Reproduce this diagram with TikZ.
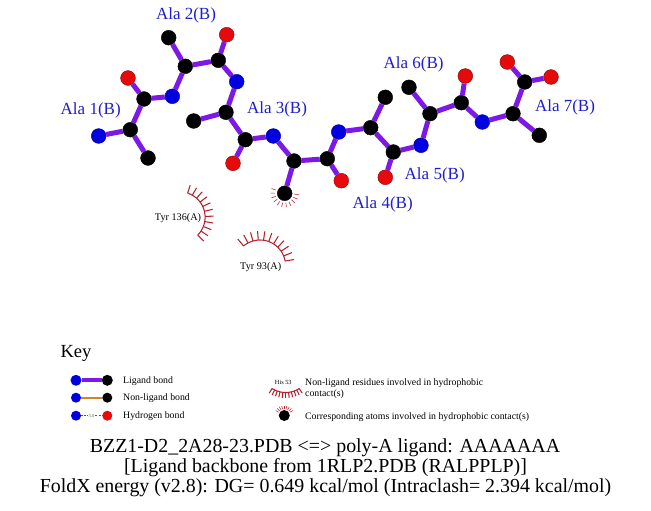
\documentclass[tikz,border=0pt]{standalone}
\usepackage{fontspec}
\setmainfont{Liberation Serif}
\definecolor{bondpurple}{RGB}{125,25,230}
\definecolor{nlbond}{RGB}{205,135,40}
\definecolor{hydrored}{RGB}{185,30,45}
\definecolor{atomblue}{RGB}{0,0,225}
\definecolor{atomred}{RGB}{230,10,10}
\definecolor{labelblue}{RGB}{30,30,205}
\definecolor{hbgreen}{RGB}{20,130,50}
\newcommand{\fsz}[1]{\fontsize{#1}{#1}\selectfont}
\newcommand{\hydroarc}[7]{% cx cy R a0 a1 steps len
  \draw[hydro] plot[smooth,samples=25,domain=#4:#5,variable=\t] ({#1+#3*cos(\t)},{#2+#3*sin(\t)});
  \foreach \k in {0,...,#6}{
    \pgfmathsetmacro{\ang}{#4+(#5-#4)*\k/#6}
    \draw[hydro] ({#1+#3*cos(\ang)},{#2+#3*sin(\ang)}) -- ({#1+(#3+#7)*cos(\ang)},{#2+(#3+#7)*sin(\ang)});
  }
}
\newcommand{\hydrorays}[7]{% cx cy r0 r1 a0 a1 steps
  \foreach \k in {0,...,#7}{
    \pgfmathsetmacro{\ang}{#5+(#6-#5)*\k/#7}
    \draw[hydro,line width=0.55pt] ({#1+#3*cos(\ang)},{#2+#3*sin(\ang)}) -- ({#1+#4*cos(\ang)},{#2+#4*sin(\ang)});
  }
}
\tikzset{
  x=1pt,y=-1pt,
  atom/.style={circle,inner sep=0pt,minimum size=14.8pt,draw=black,line width=0.4pt},
  cat/.style={atom,fill=black},
  nat/.style={atom,fill=atomblue,draw=atomblue!70!black},
  oat/.style={atom,fill=atomred,draw=atomred!60!black},
  katom/.style={circle,inner sep=0pt,minimum size=#1,line width=0pt},
  bond/.style={draw=bondpurple,line width=5pt},
  lab/.style={text=labelblue,font=\fsz{17},inner sep=0pt,yshift=-1.5pt},
  hydro/.style={draw=hydrored,line width=1.05pt},
  res/.style={text=black,font=\fsz{10.2},inner sep=0pt,yshift=-1.2pt},
  keytxt/.style={text=black,font=\fsz{9.8},inner sep=0pt,anchor=west,yshift=-1pt},
  captxt/.style={text=black,font=\fsz{19.9},inner sep=0pt,yshift=-1.5pt},
}
\begin{document}
\begin{tikzpicture}
\useasboundingbox (0,0) rectangle (651,511);
% atoms
\node[nat] (N1) at (98.7,136) {};
\node[cat] (CA1) at (130.3,129.7) {};
\node[cat] (CB1) at (148,158) {};
\node[cat] (C1) at (144,99) {};
\node[oat] (O1) at (128,78) {};
\node[nat] (N2) at (172.3,96.3) {};
\node[cat] (CA2) at (185.3,66.3) {};
\node[cat] (CB2) at (168.7,37.7) {};
\node[cat] (C2) at (218.3,60.3) {};
\node[oat] (O2) at (226.7,34.7) {};
\node[nat] (N3) at (236.7,81.7) {};
\node[cat] (CA3) at (226,112.3) {};
\node[cat] (CB3) at (193.7,121) {};
\node[cat] (C3) at (245.3,139.7) {};
\node[oat] (O3) at (233,163.3) {};
\node[nat] (N4) at (273.3,136) {};
\node[cat] (CA4) at (294,161) {};
\node[cat] (CB4) at (284.7,193.3) {};
\node[cat] (C4) at (327.3,158.7) {};
\node[oat] (O4) at (341.3,180.7) {};
\node[nat] (N5) at (338.7,132) {};
\node[cat] (CA5) at (370.7,127.7) {};
\node[cat] (CB5) at (385.3,97.3) {};
\node[cat] (C5) at (393.3,152) {};
\node[oat] (O5) at (385.3,177.3) {};
\node[nat] (N6) at (421,145.3) {};
\node[cat] (CA6) at (430,113.7) {};
\node[cat] (CB6) at (409,87.3) {};
\node[cat] (C6) at (461.3,102.7) {};
\node[oat] (O6) at (465.3,76) {};
\node[nat] (N7) at (482.3,122) {};
\node[cat] (CA7) at (513,113.7) {};
\node[cat] (CB7) at (539.3,135.3) {};
\node[cat] (C7) at (524.7,82) {};
\node[oat] (O7a) at (507.3,62) {};
\node[oat] (O7b) at (551,77) {};
% bonds
\foreach \a/\b in {N1/CA1,CA1/CB1,CA1/C1,C1/O1,C1/N2,N2/CA2,CA2/CB2,CA2/C2,C2/O2,C2/N3,N3/CA3,CA3/CB3,CA3/C3,C3/O3,C3/N4,N4/CA4,CA4/CB4,CA4/C4,C4/O4,C4/N5,N5/CA5,CA5/CB5,CA5/C5,C5/O5,C5/N6,N6/CA6,CA6/CB6,CA6/C6,C6/O6,C6/N7,N7/CA7,CA7/CB7,CA7/C7,C7/O7a,C7/O7b}
  \draw[bond] (\a) -- (\b);
% residue labels
\node[lab] (L1) at (90.7,108.7) {Ala 1(B)};
\node[lab] (L2) at (186,14) {Ala 2(B)};
\node[lab] (L3) at (277,108) {Ala 3(B)};
\node[lab] (L4) at (382.7,202.7) {Ala 4(B)};
\node[lab] (L5) at (434.7,174) {Ala 5(B)};
\node[lab] (L6) at (413.6,63) {Ala 6(B)};
\node[lab] (L7) at (565,105.5) {Ala 7(B)};
% hydrophobic contacts
\hydroarc{179.8}{217.2}{25.3}{-72}{45}{10}{8.5}
\hydroarc{260}{265.5}{25.5}{-130}{-10}{10}{9}
\hydrorays{284.7}{193.3}{9.5}{14}{5}{200}{10}
\node[res] (T136) at (178,217) {Tyr 136(A)};
\node[res] (T93) at (260.7,266) {Tyr 93(A)};
% key
\node[inner sep=0pt,font=\fsz{18.5},yshift=-1.5pt] (Key) at (76,351.7) {Key};
\node[katom=11pt,fill=atomblue] (k1a) at (76,380.3) {};
\node[katom=11pt,fill=black] (k1b) at (107.3,380.3) {};
\draw[draw=bondpurple,line width=4pt] (k1a) -- (k1b);
\node[katom=10pt,fill=atomblue] (k2a) at (76,397.7) {};
\node[katom=10pt,fill=black] (k2b) at (107.3,397.7) {};
\draw[draw=nlbond,line width=2.4pt] (k2a) -- (k2b);
\node[katom=10pt,fill=atomblue] (k3a) at (76,415.7) {};
\node[katom=10pt,fill=atomred] (k3b) at (107.3,415.7) {};
\node[text=hbgreen,font=\fsz{4.5},inner sep=0.8pt] (k3t) at (91.5,415.7) {3.0};
\draw[draw=hbgreen,line width=1.2pt,dash pattern=on 2pt off 1.2pt] (k3a) -- (k3t);
\draw[draw=hbgreen,line width=1.2pt,dash pattern=on 2pt off 1.2pt] (k3t) -- (k3b);
\node[keytxt] (kt1) at (123,380) {Ligand bond};
\node[keytxt] (kt2) at (123,397.5) {Non-ligand bond};
\node[keytxt] (kt3) at (123,415) {Hydrogen bond};
\node[inner sep=0pt,font=\fsz{6.3}] (His) at (283.3,382.3) {His 53};
\hydroarc{285.7}{367.7}{24.8}{123}{57}{10}{5.5}
\node[keytxt] (kt4) at (305,382) {Non-ligand residues involved in hydrophobic};
\node[keytxt] (kt5) at (305,393.3) {contact(s)};
\node[katom=11pt,fill=black] (kh) at (284.3,415.5) {};
\hydrorays{284.3}{415.5}{6.5}{10}{-150}{-30}{8}
\node[keytxt] (kt6) at (305,415.7) {Corresponding atoms involved in hydrophobic contact(s)};
% caption
\node[captxt] (c1) at (325,446) {BZZ1-D2\_2A28-23.PDB <=> poly-A ligand: AAAAAAA};
\node[captxt] (c2) at (325.5,466) {[Ligand backbone from 1RLP2.PDB (RALPPLP)]};
\node[captxt] (c3) at (325.5,486) {FoldX energy (v2.8): DG= 0.649 kcal/mol (Intraclash= 2.394 kcal/mol)};
\end{tikzpicture}
\end{document}
